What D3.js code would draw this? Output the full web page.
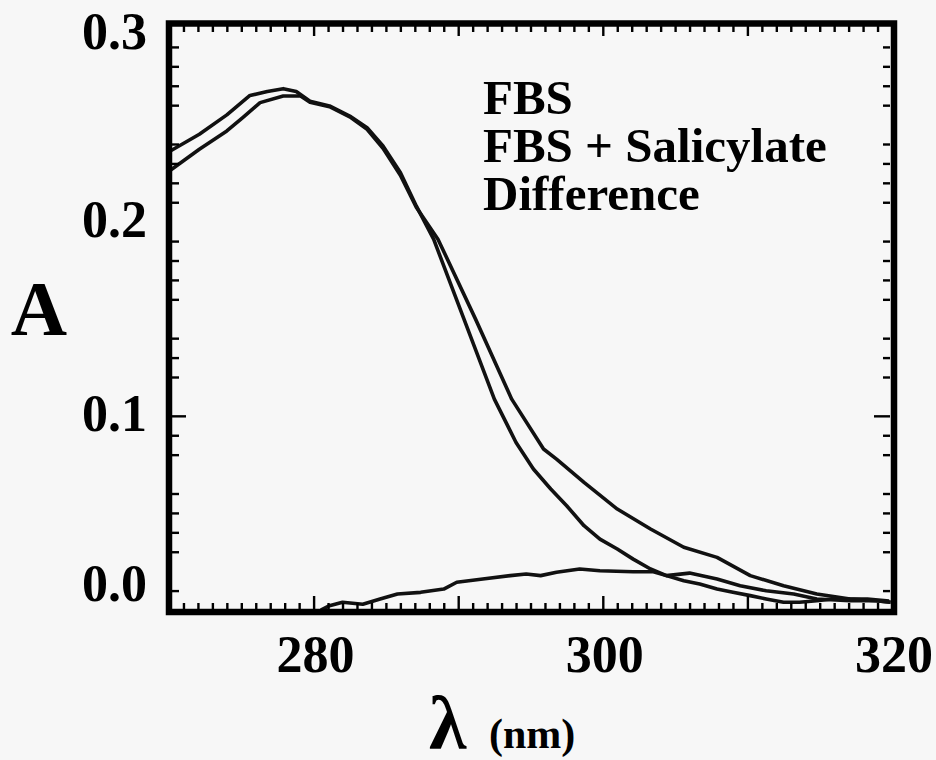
<!DOCTYPE html>
<html>
<head>
<meta charset="utf-8">
<script src="https://cdn.jsdelivr.net/npm/d3@7"></script>
<style>
  body { margin: 0; background: #f7f7f7; }
  text { font-family: "Liberation Serif", "Times New Roman", serif; font-weight: bold; fill: #000; }
</style>
</head>
<body>
<svg id="chart" width="936" height="760"></svg>
<script>
// spectra: wavelength (nm) and absorbance
var fbsWl = [270, 272.1, 274, 275.6, 276.8, 277.9, 278.8, 279.75, 281.1, 282.5, 283.7, 284.8, 286, 287.1, 288.3, 290.4,
  292.5, 294, 295.2, 296.4, 297.5, 298.7, 299.8, 301, 302.1, 303.3, 304.4, 305.6, 306.7, 307.9, 309, 310.2, 311.3,
  312.5, 313.6, 314.8, 315.9, 318.3, 319.8];
var fbsA = [0.236, 0.245, 0.255, 0.265, 0.267, 0.2685, 0.267, 0.262, 0.2596, 0.2544, 0.2484, 0.239, 0.2253, 0.2081, 0.191, 0.1498,
  0.1086, 0.0863, 0.0726, 0.0623, 0.0537, 0.0434, 0.0365, 0.0314, 0.0262, 0.0211, 0.0177, 0.0151, 0.0134, 0.0108, 0.0091, 0.0074, 0.0057,
  0.004, 0.004, 0.0048, 0.0057, 0.0057, 0.0046];

var salWl = [270, 272.1, 274, 275.1, 276.3, 277.9, 279.1, 279.75, 281.1, 282.5, 283.7, 284.8, 286, 287.1, 288.6, 291.2,
  293.7, 295.9, 296.8, 298.7, 301, 303.3, 305.6, 307.9, 310.2, 312.5, 314.8, 317.1, 318.9, 319.9];
var salA = [0.226, 0.2373, 0.2467, 0.2536, 0.2613, 0.2647, 0.2647, 0.2615, 0.2592, 0.254, 0.2476, 0.2378, 0.2239, 0.2074, 0.191, 0.1498,
  0.1086, 0.0829, 0.0777, 0.0657, 0.052, 0.0417, 0.0323, 0.0271, 0.0177, 0.0125, 0.0082, 0.0057, 0.0048, 0.004];

var diffWl = [280.5, 281.1, 282, 283.4, 284.6, 285.8, 287.4, 289, 289.9, 291.7, 293.6, 294.7, 295.7, 296.8, 298.4, 299.8,
  302.1, 303.5, 304.4, 306, 307.9, 309.5, 311.3, 313.2, 314.8, 317.1, 318.9, 319.9];
var diffA = [0, 0.0022, 0.004, 0.003, 0.0057, 0.0082, 0.0091, 0.0108, 0.0143, 0.016, 0.0177, 0.0185, 0.0177, 0.0194, 0.0211, 0.0202,
  0.0197, 0.0197, 0.0177, 0.019, 0.016, 0.0125, 0.0099, 0.0082, 0.0057, 0.0048, 0.0048, 0.004];

var legendNames = ["FBS", "FBS + Salicylate", "Difference"];

// ticks as they appear on the scan
var xLabelTicks = [280, 300, 320];
var xMajorTicks = [280, 290, 300, 310];
var xMinorTicks = d3.range(271, 320).filter(function(v) { return v % 10 !== 0; });
var yLabelTicks = [0.0, 0.1, 0.2, 0.3];
var yMajorTicks = [0.1];
var yMinorTicks = [0.01, 0.03, 0.04, 0.05, 0.06, 0.08, 0.09, 0.12, 0.13, 0.14, 0.16, 0.17, 0.18, 0.19,
  0.21, 0.22, 0.23, 0.24, 0.26, 0.27, 0.28, 0.29];

var svg = d3.select("#chart");

// plot frame
var frame = {left: 169, right: 894, top: 23.5, bottom: 612};

var x = d3.scaleLinear().domain([270, 320]).range([169, 892]);
var y = d3.scaleLinear().domain([0, 0.3]).range([610, 27.5]);

var line = d3.line()
  .x(function(d) { return x(d[0]); })
  .y(function(d) { return y(d[1]); });

function pairs(w, a) { return w.map(function(v, i) { return [v, a[i]]; }); }

svg.append("clipPath").attr("id", "clip")
  .append("rect")
  .attr("x", frame.left).attr("y", frame.top)
  .attr("width", frame.right - frame.left).attr("height", frame.bottom - frame.top);

svg.append("g")
  .attr("clip-path", "url(#clip)")
  .selectAll("path")
  .data([pairs(fbsWl, fbsA), pairs(salWl, salA), pairs(diffWl, diffA)])
  .enter()
  .append("path")
  .attr("d", line)
  .attr("fill", "none")
  .attr("stroke", "#111")
  .attr("stroke-width", 3.6)
  .attr("stroke-linejoin", "round");

// tick marks on all four sides, pointing inwards
function ticks(axis, values, size, transform) {
  var g = svg.append("g")
    .attr("transform", transform)
    .call(axis.tickValues(values).tickSize(size).tickFormat(""));
  g.select(".domain").remove();
  g.selectAll("line").attr("stroke", "#000").attr("stroke-width", 2.4);
}
ticks(d3.axisBottom(x), xMinorTicks, -6, "translate(0," + (frame.bottom - 3) + ")");
ticks(d3.axisBottom(x), xMajorTicks, -13, "translate(0," + (frame.bottom - 3) + ")");
ticks(d3.axisTop(x), xMinorTicks, -6, "translate(0," + (frame.top + 2.5) + ")");
ticks(d3.axisTop(x), xMajorTicks, -10, "translate(0," + (frame.top + 2.5) + ")");
ticks(d3.axisLeft(y), yMinorTicks, -7, "translate(" + (frame.left + 3) + ",0)");
ticks(d3.axisLeft(y), yMajorTicks, -14, "translate(" + (frame.left + 3) + ",0)");
ticks(d3.axisRight(y), yMinorTicks, -7, "translate(" + (frame.right - 4) + ",0)");
ticks(d3.axisRight(y), yMajorTicks, -16, "translate(" + (frame.right - 4) + ",0)");

svg.append("rect")
  .attr("x", frame.left).attr("y", frame.top)
  .attr("width", frame.right - frame.left).attr("height", frame.bottom - frame.top)
  .attr("fill", "none")
  .attr("stroke", "#000")
  .attr("stroke-width", 6.5);

// tick labels
svg.append("g")
  .selectAll("text")
  .data(xLabelTicks)
  .enter()
  .append("text")
  .attr("x", function(d) { return x(d) + 2; })
  .attr("y", 672)
  .attr("text-anchor", "middle")
  .attr("font-size", 52)
  .text(function(d) { return d; });

svg.append("g")
  .selectAll("text")
  .data(yLabelTicks)
  .enter()
  .append("text")
  .attr("x", 147)
  .attr("y", function(d) { return Math.min(Math.max(y(d), 34), 586) + 15; })
  .attr("text-anchor", "end")
  .attr("font-size", 52)
  .text(function(d) { return d3.format(".1f")(d); });

// axis titles
svg.append("text")
  .attr("x", 39).attr("y", 335)
  .attr("text-anchor", "middle")
  .attr("font-size", 78)
  .text("A");

svg.append("text")
  .attr("x", 429).attr("y", 749)
  .attr("font-size", 76)
  .text("λ");

svg.append("text")
  .attr("x", 489).attr("y", 748)
  .attr("font-size", 42)
  .text("(nm)");

// legend: names only
svg.append("g")
  .selectAll("text")
  .data(legendNames)
  .enter()
  .append("text")
  .attr("x", 483)
  .attr("y", function(d, i) { return 114 + i * 48; })
  .attr("font-size", 49)
  .text(function(d) { return d; });
</script>
</body>
</html>
